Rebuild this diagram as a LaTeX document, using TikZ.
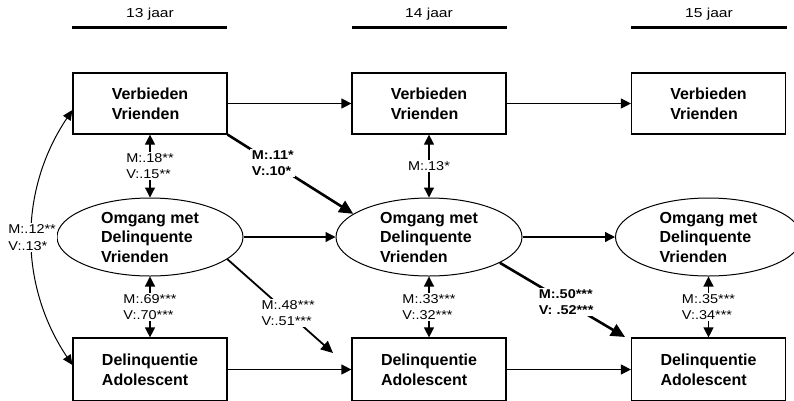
\documentclass[tikz,border=0pt]{standalone}
\usepackage{fontspec}
\setmainfont{Liberation Sans}
\newfontfamily\labfont[FakeStretch=1.13]{Liberation Sans}
\newfontfamily\headfont[FakeStretch=1.2]{Liberation Sans}
\usetikzlibrary{arrows.meta,shapes.geometric,calc}
\tikzset{
  box/.style={draw,line width=1.2pt,minimum width=154,minimum height=61,inner sep=0pt,align=left,font=\bfseries\fontsize{16}{20}\selectfont},
  ell/.style={draw,ellipse,line width=1pt,minimum width=186,minimum height=78,inner sep=0pt,align=left,font=\bfseries\fontsize{16}{19.5}\selectfont},
  lab/.style={fill=white,inner sep=1.5pt,align=left,font=\labfont\fontsize{12.8}{16.5}\selectfont},
  blab/.style={fill=white,inner sep=1.5pt,align=left,font=\labfont\bfseries\fontsize{12.8}{16.5}\selectfont},
  head/.style={font=\headfont\fontsize{13}{15}\selectfont},
  hline/.style={line width=2.5pt},
  arr/.style={line width=1.2pt,-{Triangle[length=10pt,width=10pt]}},
  darr/.style={line width=1.2pt,{Triangle[length=10pt,width=10pt]}-{Triangle[length=10pt,width=10pt]}},
  carr/.style={line width=1pt,{Triangle[length=10pt,width=9pt]}-{Triangle[length=10pt,width=9pt]}},
  barr/.style={line width=2.6pt,-{Triangle[length=14pt,width=13pt]}},
  marr/.style={line width=1.8pt,-{Triangle[length=12pt,width=11pt]}}
}
\begin{document}
\begin{tikzpicture}[x=1pt,y=-1pt]
\useasboundingbox (0,0) rectangle (794,400);
\clip (0,0) rectangle (794,400);
% headers
\node[head] (h1) at (150,14) {13 jaar};
\node[head] (h2) at (429,14) {14 jaar};
\node[head] (h3) at (709,14) {15 jaar};
\draw[hline] (72,27.5) -- (227,27.5);
\draw[hline] (352,27.5) -- (507,27.5);
\draw[hline] (631,27.5) -- (787,27.5);
% nodes
\node[box] (v1) at (150,103.5) {Verbieden\\Vrienden};
\node[box] (v2) at (429,103.5) {Verbieden\\Vrienden};
\node[box] (v3) at (708.5,103.5) {Verbieden\\Vrienden};
\node[ell] (e1) at (150,237) {Omgang met\\Delinquente\\Vrienden};
\node[ell] (e2) at (429,237) {Omgang met\\Delinquente\\Vrienden};
\node[ell] (e3) at (708.5,237) {Omgang met\\Delinquente\\Vrienden};
\node[box,minimum height=63] (d1) at (150,369.5) {Delinquentie\\Adolescent};
\node[box,minimum height=63] (d2) at (429,369.5) {Delinquentie\\Adolescent};
\node[box,minimum height=63] (d3) at (708.5,369.5) {Delinquentie\\Adolescent};
\coordinate (t1) at (333,353);
\coordinate (t2) at (625,337);
% horizontal paths
\draw[arr] (v1) -- (v2);
\draw[arr] (v2) -- (v3);
\draw[arr] (e1) -- (e2);
\draw[arr] (e2) -- (e3);
\draw[arr] (d1) -- (d2);
\draw[arr] (d2) -- (d3);
% vertical correlations
\draw[darr] (v1) -- node[lab] {M:.18**\\V:.15**} (e1);
\draw[darr] (v2) -- node[lab] {M:.13*} (e2);
\draw[darr] (e1) -- node[lab] {M:.69***\\V:.70***} (d1);
\draw[darr] (e2) -- node[lab] {M:.33***\\V:.32***} (d2);
\draw[darr] (e3) -- node[lab] {M:.35***\\V:.34***} (d3);
% cross-lagged
\draw[barr] (v1.south east) -- node[blab,pos=0.36] {M:.11*\\V:.10*} (e2.163);
\draw[marr] (e1.-16.6) -- node[lab,pos=0.575] {M:.48***\\V:.51***} (t1);
\draw[barr] (e2.-20.4) -- node[blab,pos=0.53] {M:.50***\\V: .52***} (t2);
% curved correlation
\draw[carr] ([yshift=-6.5pt]v1.west) .. controls (18.7,190) and (18.7,285) .. node[lab,pos=0.5] {M:.12**\\V:.13*} ([yshift=4.5pt]d1.west);
\end{tikzpicture}
\end{document}
